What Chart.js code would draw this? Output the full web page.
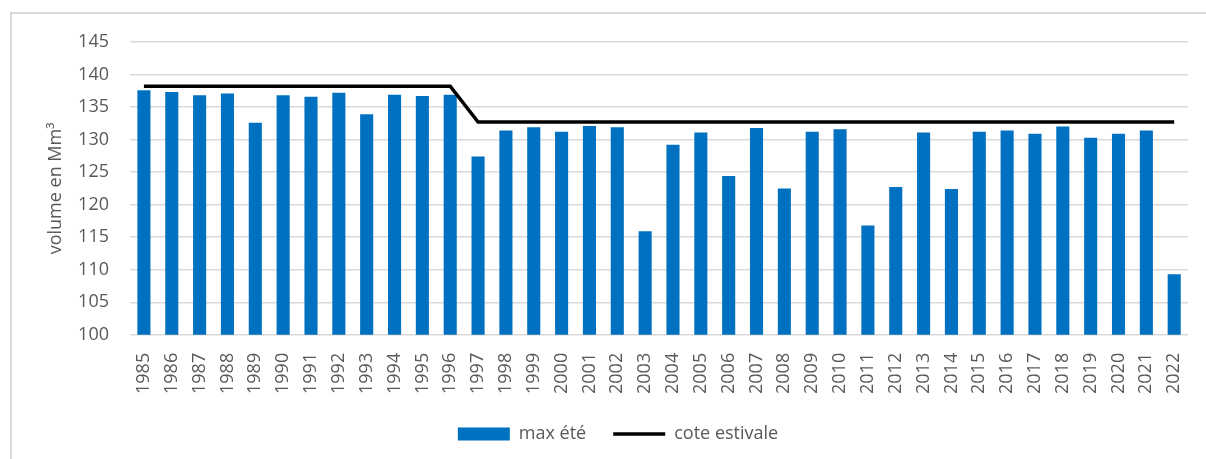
<!DOCTYPE html>
<html>
<head>
<meta charset="utf-8">
<script src="https://cdn.jsdelivr.net/npm/chart.js@4.4.0/dist/chart.umd.min.js"></script>
<style>
  html, body { margin: 0; padding: 0; background: #ffffff; overflow: hidden; }
  #wrap { position: relative; width: 1206px; height: 459px; }
  #frame { position: absolute; left: 10px; top: 12px; width: 1300px; height: 600px;
           border: 2px solid #d9d9d9; box-sizing: border-box; pointer-events: none; }
  canvas { position: absolute; left: 0; top: 0; }
</style>
</head>
<body>
<div id="wrap">
  <canvas id="c" width="1206" height="459"></canvas>
  <div id="frame"></div>
</div>
<script>
const years = ["1985","1986","1987","1988","1989","1990","1991","1992","1993","1994","1995","1996","1997","1998","1999","2000","2001","2002","2003","2004","2005","2006","2007","2008","2009","2010","2011","2012","2013","2014","2015","2016","2017","2018","2019","2020","2021","2022"];
const maxEte = [137.6,137.3,136.8,137.1,132.6,136.8,136.6,137.2,133.9,136.9,136.7,136.9,127.4,131.4,131.9,131.2,132.1,131.9,115.9,129.2,131.1,124.4,131.8,122.5,131.2,131.6,116.8,122.7,131.1,122.4,131.2,131.4,130.9,132.0,130.3,130.9,131.4,109.3];
const coteEstivale = [138.2,138.2,138.2,138.2,138.2,138.2,138.2,138.2,138.2,138.2,138.2,138.2,132.7,132.7,132.7,132.7,132.7,132.7,132.7,132.7,132.7,132.7,132.7,132.7,132.7,132.7,132.7,132.7,132.7,132.7,132.7,132.7,132.7,132.7,132.7,132.7,132.7,132.7];
const yMin = 100, yMax = 145, yStep = 5;
const seriesNames = ["max été", "cote estivale"];
const yTitle = "volume en Mm³";

const FONT = "'Open Sans', 'Liberation Sans', sans-serif";
const TXT = "#595959";

new Chart(document.getElementById('c'), {
  data: {
    labels: years,
    datasets: [
      {
        type: 'line',
        label: seriesNames[1],
        data: coteEstivale,
        borderColor: '#000000',
        backgroundColor: '#000000',
        borderWidth: 3.5,
        pointRadius: 0,
        pointStyle: 'line',
        tension: 0,
        order: 0
      },
      {
        type: 'bar',
        label: seriesNames[0],
        data: maxEte,
        backgroundColor: '#0070C0',
        borderWidth: 0,
        barPercentage: 0.47,
        categoryPercentage: 1.0,
        pointStyle: 'rect',
        order: 1
      }
    ]
  },
  options: {
    responsive: false,
    animation: false,
    devicePixelRatio: 1,
    layout: { padding: { left: 45, right: 15, top: 42, bottom: 6 } },
    plugins: {
      tooltip: { enabled: false },
      legend: {
        position: 'bottom',
        reverse: true,
        labels: {
          usePointStyle: true,
          pointStyleWidth: 52,
          boxHeight: 13,
          boxWidth: 52,
          padding: 27,
          color: TXT,
          font: { family: FONT, size: 18 }
        }
      }
    },
    scales: {
      x: {
        grid: { display: false },
        border: { display: false },
        afterFit: (s) => { s.height -= 6; },
        ticks: {
          color: TXT,
          font: { family: FONT, size: 18 },
          minRotation: 90,
          maxRotation: 90,
          autoSkip: false,
          padding: 10
        }
      },
      y: {
        min: yMin,
        max: yMax,
        afterFit: (s) => { s.width = 85; },
        grid: { color: '#d9d9d9', lineWidth: 1.5, drawTicks: false },
        border: { display: false },
        ticks: {
          stepSize: yStep,
          color: TXT,
          font: { family: FONT, size: 18 },
          padding: 21
        },
        title: {
          display: true,
          text: yTitle,
          color: TXT,
          font: { family: FONT, size: 18 },
          padding: { top: 0, bottom: 11 }
        }
      }
    }
  }
});
</script>
</body>
</html>
